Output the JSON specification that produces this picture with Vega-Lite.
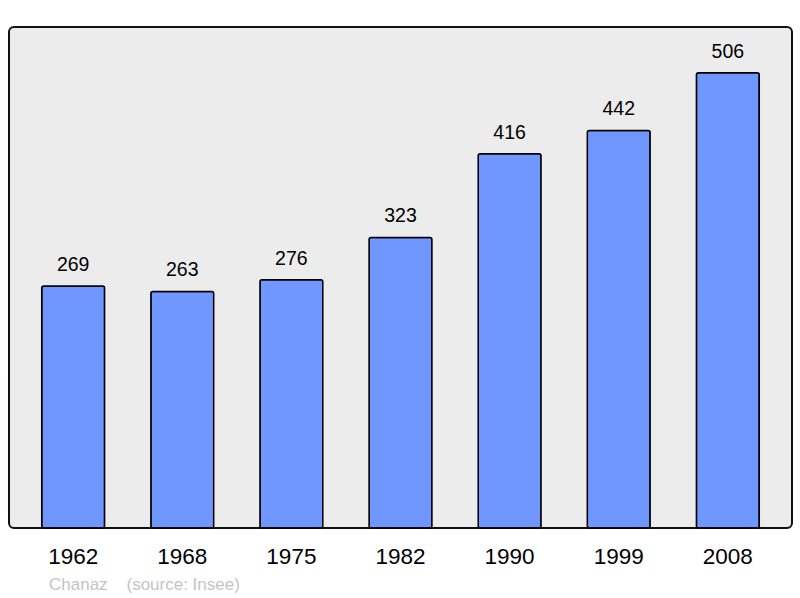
{
  "$schema": "https://vega.github.io/schema/vega-lite/v6.json",
  "autosize": "none",
  "width": 783,
  "height": 501,
  "padding": {"left": 9, "top": 27, "right": 8, "bottom": 70},
  "background": "white",
  "config": {
    "font": "Liberation Sans",
    "view": {"fill": "#ececec", "stroke": "#111111", "strokeWidth": 2, "cornerRadius": 5}
  },
  "title": {
    "text": "Chanaz\u00a0\u00a0\u00a0 (source: Insee)",
    "orient": "bottom",
    "anchor": "start",
    "frame": "group",
    "dx": 40,
    "offset": 9,
    "fontSize": 17,
    "fontWeight": "normal",
    "color": "#c4c4c4"
  },
  "data": {
    "values": [
      {"year": "1962", "pop": 269},
      {"year": "1968", "pop": 263},
      {"year": "1975", "pop": 276},
      {"year": "1982", "pop": 323},
      {"year": "1990", "pop": 416},
      {"year": "1999", "pop": 442},
      {"year": "2008", "pop": 506}
    ]
  },
  "encoding": {
    "x": {
      "field": "year",
      "type": "ordinal",
      "scale": {"paddingInner": 0.424, "paddingOuter": 0.3},
      "axis": {
        "title": null,
        "domain": false,
        "ticks": false,
        "labelAngle": 0,
        "labelFontSize": 22.5,
        "labelColor": "#000000",
        "labelPadding": 17
      }
    },
    "y": {
      "field": "pop",
      "type": "quantitative",
      "scale": {"domain": [0, 557], "nice": false},
      "axis": null
    }
  },
  "layer": [
    {
      "mark": {"type": "bar", "color": "#7096ff", "stroke": "#000000", "strokeWidth": 1.5, "cornerRadius": 2}
    },
    {
      "mark": {"type": "text", "baseline": "alphabetic", "dy": -15, "fontSize": 19.5, "color": "#000000"},
      "encoding": {"text": {"field": "pop", "type": "quantitative"}}
    }
  ]
}
